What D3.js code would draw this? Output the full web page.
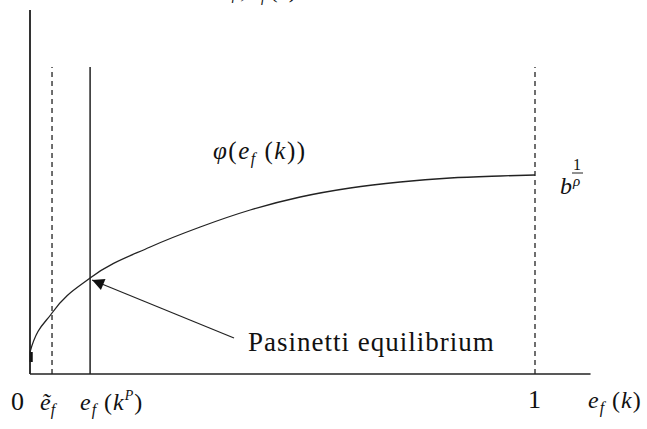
<!DOCTYPE html>
<html>
<head>
<meta charset="utf-8">
<script src="https://cdn.jsdelivr.net/npm/d3@7"></script>
<style>
  html, body { margin: 0; padding: 0; background: #fff; }
  svg { display: block; }
  text { font-family: "Liberation Serif", "Times New Roman", serif; fill: #111; }
</style>
</head>
<body>
<svg id="chart" width="647" height="429"></svg>
<script>
// Share of labour income e_f (0..1) and the concave map phi(e_f(k))
const curveE   = [0, 0, 0.0436, 0.119, 0.238, 0.337, 0.436, 0.535, 0.634, 0.733, 0.832, 0.931, 1.0];
const curvePhi = [0.06, 0.11, 0.305, 0.48, 0.635, 0.735, 0.82, 0.885, 0.93, 0.96, 0.98, 0.99, 0.995];

// Reference positions on the horizontal axis
const eTilde = 0.0436;   // \tilde e_f
const eP     = 0.119;    // e_f(k^P), Pasinetti equilibrium
const eOne   = 1.0;

const yAxisTop  = 1.82;  // top of the vertical axis
const guideTop  = 1.535; // top of the vertical guide lines

const svg = d3.select("#chart");

const x = d3.scaleLinear().domain([0, 1]).range([30, 535]);
const y = d3.scaleLinear().domain([0, yAxisTop]).range([374, 10]);

// axes (plain lines, no ticks)
svg.append("line")
  .attr("x1", x(0)).attr("x2", x(0))
  .attr("y1", y(0)).attr("y2", y(yAxisTop))
  .attr("stroke", "#333").attr("stroke-width", 2);
svg.append("line")
  .attr("x1", x(0)).attr("x2", x(1.11))
  .attr("y1", y(0)).attr("y2", y(0))
  .attr("stroke", "#222").attr("stroke-width", 1.6);

// vertical guides
const guides = [
  { e: eTilde, dash: "5,4" },
  { e: eP,     dash: null },
  { e: eOne,   dash: "5,4" }
];
svg.selectAll("line.guide").data(guides).join("line")
  .attr("class", "guide")
  .attr("x1", d => x(d.e)).attr("x2", d => x(d.e))
  .attr("y1", y(0)).attr("y2", y(guideTop))
  .attr("stroke", "#222")
  .attr("stroke-width", d => d.dash ? 1.3 : 1.5)
  .attr("stroke-dasharray", d => d.dash);

// the curve phi(e_f(k))
const pts = curveE.map((e, i) => [e, curvePhi[i]]);
svg.append("path")
  .datum(pts)
  .attr("fill", "none")
  .attr("stroke", "#222")
  .attr("stroke-width", 1.3)
  .attr("d", d3.line().x(d => x(d[0])).y(d => y(d[1])).curve(d3.curveMonotoneX));
// thicker foot of the curve near the origin
svg.append("line")
  .attr("x1", x(0) + 1.5).attr("x2", x(0) + 1.5)
  .attr("y1", y(0.06)).attr("y2", y(0.11))
  .attr("stroke", "#111").attr("stroke-width", 2.5);

// arrow pointing to the Pasinetti equilibrium
svg.append("defs").append("marker")
  .attr("id", "head")
  .attr("viewBox", "0 0 10 10")
  .attr("refX", 10).attr("refY", 5)
  .attr("markerWidth", 17).attr("markerHeight", 12)
  .attr("markerUnits", "userSpaceOnUse")
  .attr("orient", "auto")
  .append("path").attr("d", "M0,0 L10,5 L0,10 Z").attr("fill", "#111");
svg.append("line")
  .attr("x1", 234).attr("y1", 338)
  .attr("x2", x(eP) + 2).attr("y2", y(0.47))
  .attr("stroke", "#222").attr("stroke-width", 1.2)
  .attr("marker-end", "url(#head)");

svg.append("text")
  .attr("x", 248).attr("y", 351)
  .attr("font-size", 27)
  .attr("letter-spacing", 1)
  .text("Pasinetti equilibrium");

// math label builder: parts are [text, italic, size, dy]
function mathText(xp, yp, size, parts) {
  const t = svg.append("text").attr("x", xp).attr("y", yp).attr("font-size", size);
  parts.forEach(([s, it, fs, dy]) => {
    const sp = t.append("tspan").text(s);
    if (it) sp.attr("font-style", "italic");
    if (fs) sp.attr("font-size", fs);
    if (dy) sp.attr("dy", dy);
  });
  return t;
}

// curve label
mathText(213, 159, 25, [
  ["φ", true], ["(", false], ["e", true], ["f", true, 16, 5],
  [" (", false, null, -5], ["k", true], ["))", false]
]).attr("letter-spacing", 1.5);

// b^{1/rho}
svg.append("text").attr("x", x(eOne) + 25).attr("y", 194)
  .attr("font-size", 24).attr("font-style", "italic").text("b");
svg.append("text").attr("x", x(eOne) + 38).attr("y", 170)
  .attr("font-size", 16).text("1");
svg.append("line")
  .attr("x1", x(eOne) + 37).attr("x2", x(eOne) + 48)
  .attr("y1", 173).attr("y2", 173)
  .attr("stroke", "#222").attr("stroke-width", 1);
svg.append("text").attr("x", x(eOne) + 38).attr("y", 186)
  .attr("font-size", 15).attr("font-style", "italic").text("ρ");

// horizontal axis labels
svg.append("text").attr("x", 11).attr("y", 410).attr("font-size", 26).text("0");
svg.append("text").attr("x", x(eOne) - 7).attr("y", 408).attr("font-size", 26).text("1");

mathText(40, 410, 24, [["ẽ", true], ["f", true, 16, 5]]);
mathText(80, 410, 24, [
  ["e", true], ["f", true, 16, 5], [" (", false, null, -5], ["k", true],
  ["P", true, 14, -10], [")", false, null, 10]
]).attr("letter-spacing", 1);
mathText(588, 408, 24, [
  ["e", true], ["f", true, 16, 5], [" (", false, null, -5], ["k", true], [")", false]
]).attr("letter-spacing", 1);

// axis title, mostly above the top edge
mathText(228, -2, 22, [
  ["φ", true], [", ", false], ["e", true], ["f", true, 14, 4], [" (k)", false, null, -4]
]);
</script>
</body>
</html>
